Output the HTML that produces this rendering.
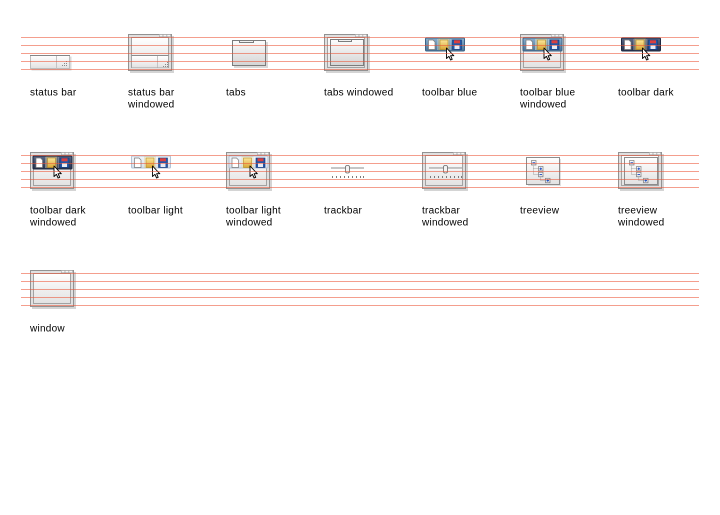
<!DOCTYPE html>
<html><head><meta charset="utf-8"><style>
html,body{margin:0;padding:0;background:#fff;width:720px;height:515px;overflow:hidden}
svg{display:block}
text{font-family:"Liberation Sans",Arial,sans-serif;font-size:10px;fill:#000;letter-spacing:.25px}
</style></head><body>
<svg width="720" height="515" viewBox="0 0 720 515" xmlns="http://www.w3.org/2000/svg" xmlns:xlink="http://www.w3.org/1999/xlink">
<defs>
 <linearGradient id="gw" x1="0" y1="0" x2="0" y2="1"><stop offset="0" stop-color="#ffffff"/><stop offset="1" stop-color="#e2e2e2"/></linearGradient>
 <linearGradient id="gt" x1="0" y1="0" x2="0" y2="1"><stop offset="0" stop-color="#fdfdfd"/><stop offset="1" stop-color="#d4d4d4"/></linearGradient>
 <linearGradient id="gb" x1="0" y1="0" x2="0" y2="1"><stop offset="0" stop-color="#8ab0cf"/><stop offset="1" stop-color="#4a7397"/></linearGradient>
 <linearGradient id="gd" x1="0" y1="0" x2="0" y2="1"><stop offset="0" stop-color="#5a6886"/><stop offset="1" stop-color="#28324d"/></linearGradient>
 <linearGradient id="gl" x1="0" y1="0" x2="0" y2="1"><stop offset="0" stop-color="#f2f6fb"/><stop offset="1" stop-color="#d5dfeb"/></linearGradient>
 <linearGradient id="gy" x1="0" y1="0" x2="0" y2="1"><stop offset="0" stop-color="#fbe69a"/><stop offset="1" stop-color="#d9a636"/></linearGradient>
 <linearGradient id="gn" x1="0" y1="0" x2="0" y2="1"><stop offset="0" stop-color="#ffffff"/><stop offset="1" stop-color="#d8dbe4"/></linearGradient>

 <g id="win">
  <rect x="2" y="2" width="44" height="37" fill="#000" opacity=".17"/>
  <rect x=".5" y=".5" width="43" height="36" fill="#e0e0e0" stroke="#929292"/>
  <rect x="3.5" y="3.5" width="37" height="30" fill="url(#gw)" stroke="#a2a2a2"/>
  <rect x="31.3" y=".5" width="3.6" height="2.2" fill="#f6f6f6" stroke="#a8a8a8" stroke-width=".6"/>
  <rect x="35.1" y=".5" width="3.6" height="2.2" fill="#f6f6f6" stroke="#a8a8a8" stroke-width=".6"/>
  <rect x="38.9" y=".5" width="3.6" height="2.2" fill="#f6f6f6" stroke="#a8a8a8" stroke-width=".6"/>
 </g>

 <path id="cur" d="M0 0V10.5L2.4 8.3L4.1 12L5.7 11.3L4.1 7.7H7.3Z" fill="#fff" stroke="#000" stroke-width=".9" stroke-linejoin="round"/>

 <g id="tbi">
  <path d="M3.5 2.5h4.5l2 2v7.5h-6.5z" fill="#fff" stroke="#7a7a7a" stroke-width=".7"/>
  <rect x="13.5" y="1.3" width="11" height="11" fill="#fff3c0" opacity=".45" stroke="#e6c460" stroke-width=".6"/>
  <rect x="15" y="2.5" width="8" height="9.5" fill="url(#gy)" stroke="#b48a20" stroke-width=".6"/>
  <rect x="27.5" y="2.5" width="9" height="9.5" fill="#2356a8" stroke="#143a78" stroke-width=".6"/>
  <rect x="29" y="2.8" width="6" height="3" fill="#d94040"/>
  <rect x="29.5" y="7.5" width="5" height="4" fill="#e6ecf6"/>
  <use xlink:href="#cur" href="#cur" x="21.5" y="10.5"/>
 </g>

 <g id="tbB">
  <rect x=".5" y=".5" width="39" height="13" rx="1" fill="url(#gb)" stroke="#3e6385"/>
  <line x1="12.8" y1="1.5" x2="12.8" y2="12.5" stroke="#b8d0e4" stroke-width=".6"/>
  <line x1="25.8" y1="1.5" x2="25.8" y2="12.5" stroke="#b8d0e4" stroke-width=".6"/>
  <use xlink:href="#tbi" href="#tbi"/>
 </g>
 <g id="tbD">
  <rect x=".5" y=".5" width="39" height="13" rx="1" fill="url(#gd)" stroke="#1e2840"/>
  <line x1="12.8" y1="1.5" x2="12.8" y2="12.5" stroke="#8a96b0" stroke-width=".6"/>
  <line x1="25.8" y1="1.5" x2="25.8" y2="12.5" stroke="#8a96b0" stroke-width=".6"/>
  <use xlink:href="#tbi" href="#tbi"/>
 </g>
 <g id="tbL">
  <rect x=".5" y=".5" width="39" height="12" rx="1" fill="url(#gl)" stroke="#b4c3d6"/>
  <use xlink:href="#tbi" href="#tbi"/>
 </g>

 <g id="grip" fill="#8a8a8a">
  <rect x="4" y="0" width="1" height="1"/>
  <rect x="2" y="2" width="1" height="1"/><rect x="4" y="2" width="1" height="1"/>
  <rect x="0" y="4" width="1" height="1"/><rect x="2" y="4" width="1" height="1"/><rect x="4" y="4" width="1" height="1"/>
 </g>

 <g id="track">
  <rect x="7" y="15.5" width="33" height="1" fill="#8c8c8c"/>
  <rect x="7" y="16.5" width="33" height="1" fill="#ffffff"/>
  <rect x="21.5" y="13.5" width="4" height="7.5" rx="1.6" fill="#f4f4f4" stroke="#6a6a6a" stroke-width=".8"/>
  <g fill="#7a7a7a">
   <rect x="8" y="24" width="1" height="2"/><rect x="12" y="24" width="1" height="2"/><rect x="16" y="24" width="1" height="2"/><rect x="20" y="24" width="1" height="2"/>
   <rect x="24" y="24" width="1" height="2"/><rect x="28" y="24" width="1" height="2"/><rect x="32" y="24" width="1" height="2"/><rect x="36" y="24" width="1" height="2"/>
   <rect x="39" y="24" width="1" height="2"/>
  </g>
 </g>

 <g id="tree">
  <rect x="6.5" y="5.5" width="33" height="27" fill="url(#gw)" stroke="#8c8c8c"/>
  <g stroke="#8a8a8a" stroke-width=".8" stroke-dasharray="1 1" fill="none">
   <line x1="13.5" y1="12.5" x2="13.5" y2="22.5"/>
   <line x1="13.5" y1="16.5" x2="18.5" y2="16.5"/>
   <line x1="13.5" y1="22.5" x2="18.5" y2="22.5"/>
   <line x1="20.5" y1="24.5" x2="20.5" y2="28.5"/>
   <line x1="20.5" y1="28.5" x2="25.5" y2="28.5"/>
  </g>
  <g stroke="#7c7c7c" stroke-width=".7" fill="url(#gn)">
   <rect x="11.5" y="8.5" width="4.5" height="4.5"/>
   <rect x="18.5" y="14.5" width="4.5" height="4.5"/>
   <rect x="18.5" y="20.3" width="4.5" height="4.5"/>
   <rect x="25.5" y="26.3" width="4.5" height="4.5"/>
  </g>
  <g stroke="#1f4fc0" stroke-width=".9">
   <line x1="12.5" y1="10.75" x2="15" y2="10.75"/>
   <line x1="19.5" y1="16.75" x2="22" y2="16.75"/><line x1="20.75" y1="15.5" x2="20.75" y2="18"/>
   <line x1="19.5" y1="22.55" x2="22" y2="22.55"/>
   <line x1="26.5" y1="28.55" x2="29" y2="28.55"/><line x1="27.75" y1="27.3" x2="27.75" y2="29.8"/>
  </g>
 </g>
</defs>

<!-- ROW 1 -->
<!-- status bar -->
<g transform="translate(30,55)">
 <rect x="1.5" y="1.5" width="40" height="14" fill="#000" opacity=".15"/>
 <rect x=".5" y=".5" width="39" height="13" fill="url(#gw)" stroke="#bdbdbd"/>
 <line x1="0" y1=".5" x2="40" y2=".5" stroke="#858585"/>
 <line x1="26.5" y1="1" x2="26.5" y2="13.5" stroke="#c4c4c4"/>
 <use xlink:href="#grip" href="#grip" x="32" y="6"/>
</g>
<!-- status bar windowed -->
<g transform="translate(128,34)">
 <use xlink:href="#win" href="#win"/>
 <line x1="3.5" y1="21.5" x2="40.5" y2="21.5" stroke="#8c8c8c"/>
 <rect x="4" y="22" width="36" height="11.5" fill="url(#gw)"/>
 <line x1="29.5" y1="22" x2="29.5" y2="33.5" stroke="#c4c4c4"/>
 <use xlink:href="#grip" href="#grip" x="35" y="28"/>
</g>
<!-- tabs -->
<g transform="translate(226,0)">
 <rect x="8" y="42" width="34" height="26" fill="#000" opacity=".15"/>
 <rect x="6.5" y="40.5" width="33" height="25" fill="url(#gt)" stroke="#7c7c7c"/>
 <rect x="13.5" y="40.5" width="14" height="2" fill="#f2f2f2" stroke="#7c7c7c"/>
</g>
<!-- tabs windowed -->
<g transform="translate(324,34)">
 <use xlink:href="#win" href="#win"/>
 <rect x="6.5" y="5.5" width="33" height="26" fill="url(#gt)" stroke="#7c7c7c"/>
 <rect x="14.5" y="5.5" width="13" height="2" fill="#f2f2f2" stroke="#7c7c7c"/>
</g>
<!-- toolbar blue -->
<use xlink:href="#tbB" href="#tbB" x="425" y="37.5"/>
<!-- toolbar blue windowed -->
<g transform="translate(520,34)">
 <use xlink:href="#win" href="#win"/>
 <use xlink:href="#tbB" href="#tbB" x="2.5" y="3.5"/>
</g>
<!-- toolbar dark -->
<use xlink:href="#tbD" href="#tbD" x="621" y="37.5"/>

<!-- ROW 2 -->
<g transform="translate(30,152)">
 <use xlink:href="#win" href="#win"/>
 <use xlink:href="#tbD" href="#tbD" x="2.5" y="3.5"/>
</g>
<use xlink:href="#tbL" href="#tbL" x="131" y="155.5"/>
<g transform="translate(226,152)">
 <use xlink:href="#win" href="#win"/>
 <use xlink:href="#tbL" href="#tbL" x="2.5" y="3.5"/>
</g>
<use xlink:href="#track" href="#track" x="324" y="152"/>
<g transform="translate(422,152)">
 <use xlink:href="#win" href="#win"/>
 <use xlink:href="#track" href="#track"/>
</g>
<g transform="translate(520,152)">
 <rect x="8" y="7" width="33" height="27" fill="#000" opacity=".12"/>
 <use xlink:href="#tree" href="#tree"/>
</g>
<g transform="translate(618,152)">
 <use xlink:href="#win" href="#win"/>
 <use xlink:href="#tree" href="#tree"/>
</g>

<!-- ROW 3 -->
<use xlink:href="#win" href="#win" x="30" y="270"/>

<!-- guide lines (on top) -->
<g fill="rgba(236,82,52,0.56)">
 <rect x="21" y="37" width="678" height="1"/><rect x="21" y="45" width="678" height="1"/><rect x="21" y="53" width="678" height="1"/><rect x="21" y="61" width="678" height="1"/><rect x="21" y="69" width="678" height="1"/>
 <rect x="21" y="155" width="678" height="1"/><rect x="21" y="163" width="678" height="1"/><rect x="21" y="171" width="678" height="1"/><rect x="21" y="179" width="678" height="1"/><rect x="21" y="187" width="678" height="1"/>
 <rect x="21" y="273" width="678" height="1"/><rect x="21" y="281" width="678" height="1"/><rect x="21" y="289" width="678" height="1"/><rect x="21" y="297" width="678" height="1"/><rect x="21" y="305" width="678" height="1"/>
</g>

<!-- labels -->
<text x="30" y="95.5">status bar</text>
<text x="128" y="95.5">status bar</text><text x="128" y="107.5">windowed</text>
<text x="226" y="95.5">tabs</text>
<text x="324" y="95.5">tabs windowed</text>
<text x="422" y="95.5">toolbar blue</text>
<text x="520" y="95.5">toolbar blue</text><text x="520" y="107.5">windowed</text>
<text x="618" y="95.5">toolbar dark</text>

<text x="30" y="213.5">toolbar dark</text><text x="30" y="225.5">windowed</text>
<text x="128" y="213.5">toolbar light</text>
<text x="226" y="213.5">toolbar light</text><text x="226" y="225.5">windowed</text>
<text x="324" y="213.5">trackbar</text>
<text x="422" y="213.5">trackbar</text><text x="422" y="225.5">windowed</text>
<text x="520" y="213.5">treeview</text>
<text x="618" y="213.5">treeview</text><text x="618" y="225.5">windowed</text>

<text x="30" y="331.5">window</text>
</svg>
</body></html>
